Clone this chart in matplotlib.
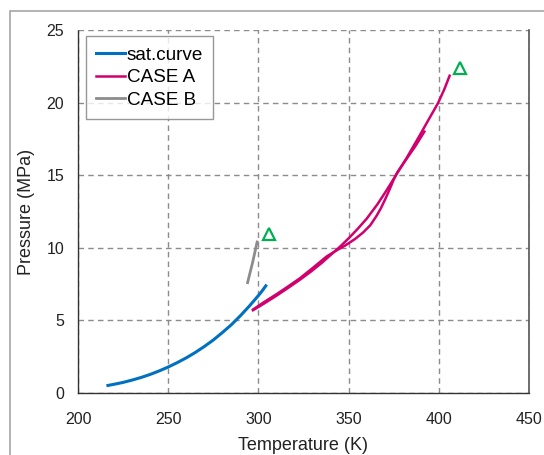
import matplotlib.pyplot as plt
from matplotlib.patches import Rectangle

plt.rcParams['font.family'] = ['Liberation Sans', 'DejaVu Sans']

# CO2 saturation curve (triple point -> critical point)
sat_T = [216.6, 220, 225, 230, 235, 240, 245, 250, 255, 260, 265, 270,
         275, 280, 285, 290, 295, 300, 302, 304.1]
sat_P = [0.52, 0.60, 0.73, 0.89, 1.07, 1.28, 1.52, 1.79, 2.09, 2.42, 2.79, 3.20,
         3.65, 4.16, 4.70, 5.32, 5.99, 6.71, 7.02, 7.38]

# CASE A, two branches
a1_T = [297, 303, 310, 316, 323, 329, 335, 340, 345, 350, 355, 360, 366,
        371, 376, 382, 389, 394, 399.5, 403, 406]
a1_P = [5.7, 6.15, 6.7, 7.2, 7.8, 8.35, 8.95, 9.5, 10.05, 10.65, 11.3, 12.0, 13.0,
        13.95, 14.95, 16.15, 17.65, 18.75, 19.95, 20.9, 21.85]

a2_T = [297, 303, 310, 316, 323, 330, 337.8, 343, 348, 353.5, 358, 362,
        365.5, 368, 370.5, 373, 375, 377, 382, 387, 392]
a2_P = [5.75, 6.25, 6.8, 7.3, 7.9, 8.6, 9.4, 9.8, 10.15, 10.6, 11.05, 11.55,
        12.2, 12.75, 13.4, 14.1, 14.7, 15.2, 16.1, 17.0, 18.0]

# CASE B
b_T = [294, 296.8, 299.3]
b_P = [7.6, 9.0, 10.4]

# end-point markers
mark_T = [306, 411.6]
mark_P = [10.95, 22.35]

fig = plt.figure(figsize=(5.44, 4.55), dpi=100)
ax = fig.add_axes([78/544, 1 - 393/455, 451/544, 363/455])

# chart border (Excel style)
fig.patches.append(Rectangle((10/544, -0.1), 1.2, 1 - 11/455 + 0.1,
                             transform=fig.transFigure, fill=False,
                             edgecolor='#a6a6a6', linewidth=1.2))

ax.plot(sat_T, sat_P, color='#0070c0', lw=2.2, label='sat.curve', zorder=3)
ax.plot(a1_T, a1_P, color='#d0006f', lw=1.8, label='CASE A', zorder=3)
ax.plot(a2_T, a2_P, color='#d0006f', lw=1.8, zorder=3)
ax.plot(b_T, b_P, color='#8c8c8c', lw=2.0, label='CASE B', zorder=3)
ax.plot(mark_T, mark_P, linestyle='none', marker='^', markersize=8,
        markerfacecolor='none', markeredgecolor='#00b050', markeredgewidth=1.6, zorder=4)

ax.set_xlim(200, 450)
ax.set_ylim(0, 25)
ax.set_xticks(range(200, 451, 50))
ax.set_yticks(range(0, 26, 5))
ax.grid(True, color='#8c8c8c', linestyle=(0, (4, 3)), linewidth=1.0)
ax.tick_params(length=0, labelsize=11.5, colors='#222222')
ax.tick_params(axis='x', pad=14)
ax.tick_params(axis='y', pad=10)

ax.spines['top'].set_visible(False)
ax.spines['right'].set_color('#555555')
ax.spines['right'].set_linewidth(1.2)
for s in ['left', 'bottom']:
    ax.spines[s].set_color('#333333')
    ax.spines[s].set_linestyle((0, (1, 1)))
    ax.spines[s].set_linewidth(1.0)

ax.set_xlabel('Temperature (K)', fontsize=13, color='#222222', labelpad=7)
ax.set_ylabel('Pressure (MPa)', fontsize=13, color='#222222', labelpad=8)

leg = ax.legend(loc='upper left', bbox_to_anchor=(0.0177, 0.983), borderaxespad=0,
                fontsize=13.6, handlelength=1.5, handletextpad=0.1,
                labelspacing=0.28, borderpad=0.55, fancybox=False)
leg.get_frame().set_edgecolor('#7f7f7f')
leg.get_frame().set_linewidth(1.0)

fig.savefig('out.png', dpi=100)
